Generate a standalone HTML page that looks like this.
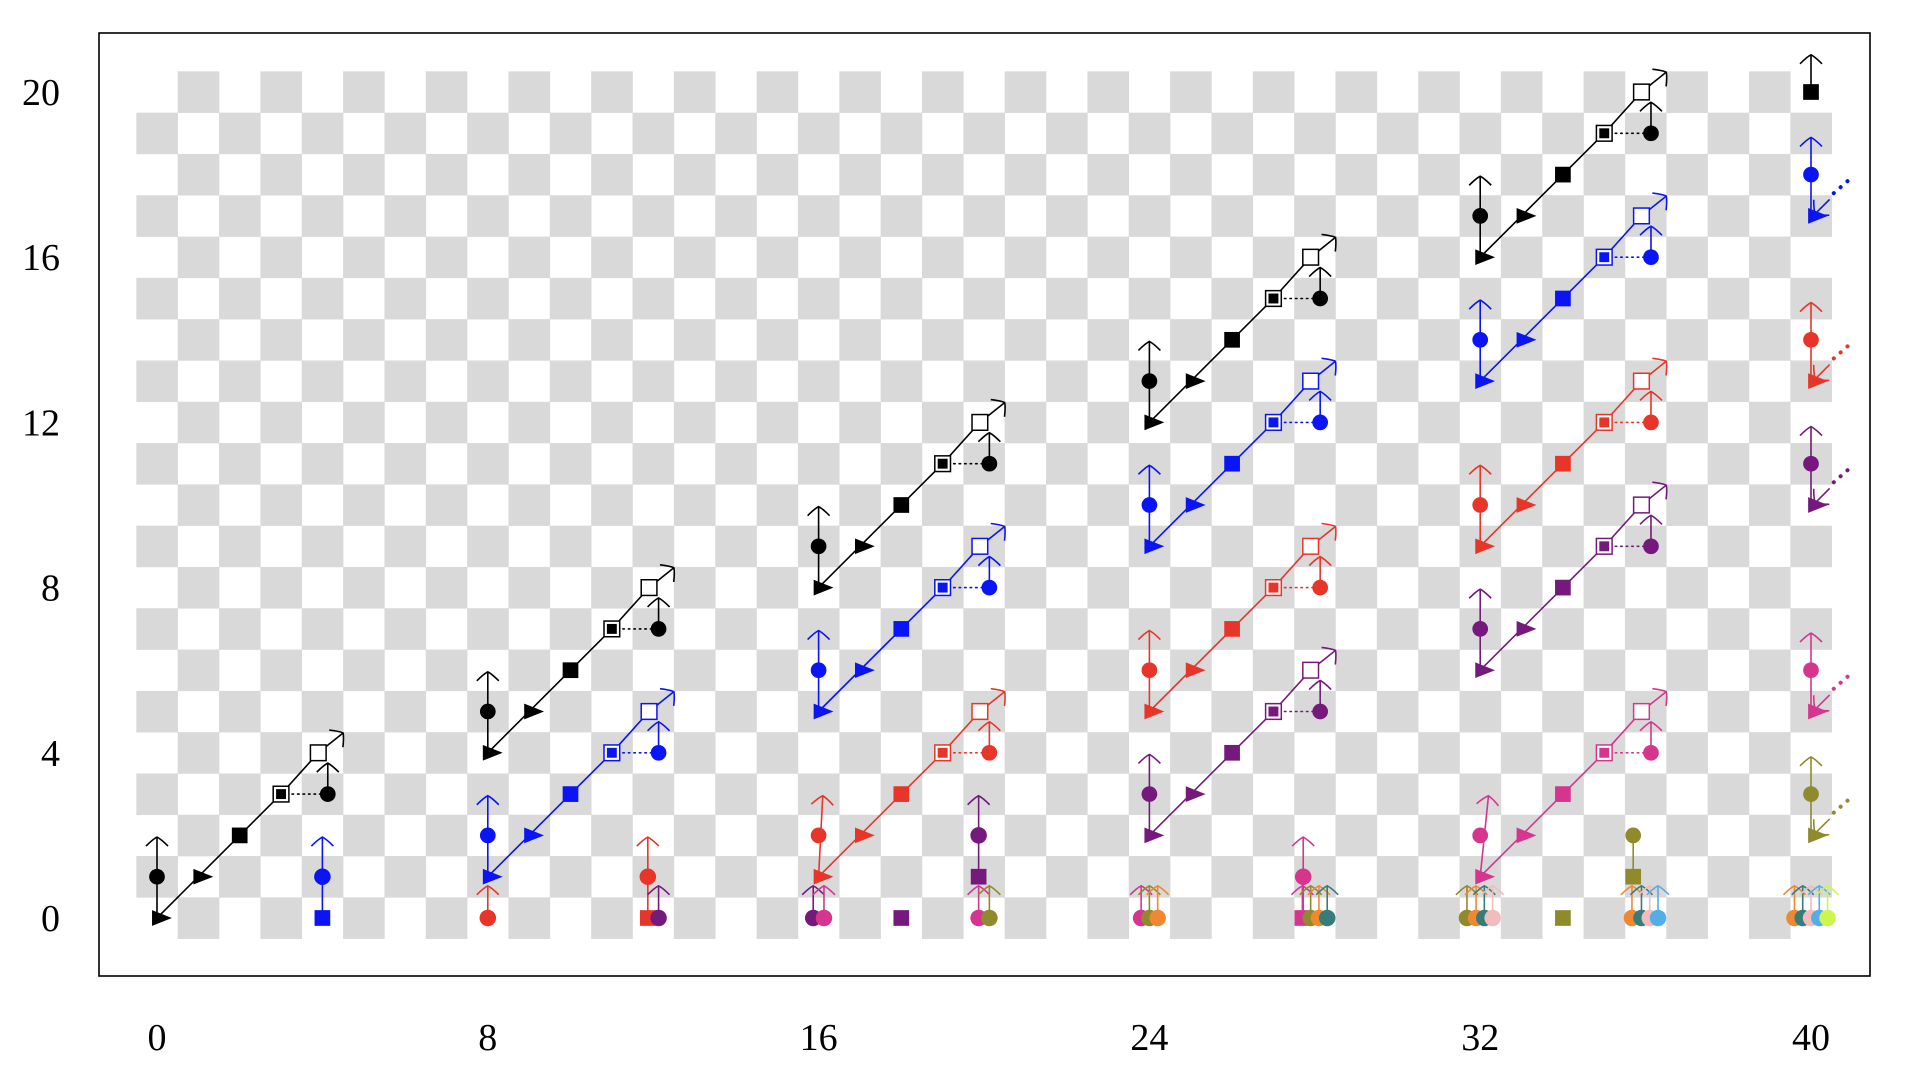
<!DOCTYPE html>
<html><head><meta charset="utf-8"><style>
html,body{margin:0;padding:0;background:#fff}
svg{display:block}
text{font-family:"Liberation Serif",serif;font-size:38px;fill:#000}
</style></head><body>
<svg id="chart" width="1914" height="1072" viewBox="0 0 1914 1072" xmlns="http://www.w3.org/2000/svg">
<rect x="0" y="0" width="1914" height="1072" fill="#fff"/>
<g id="board"></g>
<g id="marks"></g>
<rect x="99" y="33" width="1771" height="943" fill="none" stroke="#000" stroke-width="1.6"/>
<g id="ticks"></g>
</svg>
<script>
// ----- data -----
const xTicks = [0, 8, 16, 24, 32, 40];
const yTicks = [0, 4, 8, 12, 16, 20];
// full chains: base point (triangle) of each chain
const chainX = [0, 8, 8, 16, 16, 16, 24, 24, 24, 24, 32, 32, 32, 32, 32];
const chainY = [0, 4, 1, 8, 5, 1, 12, 9, 5, 2, 16, 13, 9, 6, 1];
const chainC = ['black','black','blue','black','blue','red','black','blue','red','purple','black','blue','red','purple','pink'];
const chainTilt = [0,0,0,0,0,0.1,0,0,0,0,0,0,0,0,0.2];
// partial chains at x=40: circle y values
const tailY = [18, 14, 11, 6, 3];
const tailC = ['blue','red','purple','pink','olive'];
const topSquareY = 20;
// bottom/isolated circles with arrows: x, y, color
const dotX = [4, 8, 11.87, 12.13, 15.87, 16.13, 19.87, 20.13, 19.87, 23.8, 24, 24.2, 27.72, 27.7, 27.9, 28.1, 28.3, 31.68, 31.9, 32.1, 32.3, 35.67, 35.9, 36.1, 36.3, 39.6, 39.8, 40, 40.2, 40.4];
const dotY = [1, 0, 1, 0, 0, 0, 0, 0, 2, 0, 0, 0, 1, 0, 0, 0, 0, 0, 0, 0, 0, 0, 0, 0, 0, 0, 0, 0, 0, 0];
const dotC = ['blue','red','red','purple','purple','pink','pink','olive','purple','pink','olive','orange','pink','pink','olive','orange','teal','olive','orange','teal','lpink','orange','teal','lpink','lblue','orange','teal','lpink','lblue','lime'];
const dotHasCircle = [1,1,1,1,1,1,1,1,1,1,1,1,1,0,1,1,1,1,1,1,1,1,1,1,1,1,1,1,1,1];
// isolated squares: x, y, color
const sqX = [4, 11.87, 18, 19.87, 27.7, 34, 35.7];
const sqY = [0, 0, 0, 1, 0, 0, 1];
const sqC = ['blue','red','purple','purple','pink','olive','olive'];
// stems linking square to circle above
const stemX = [4, 11.87, 19.87, 27.72, 35.7];
const stemY0 = [0, 0, 1, 0, 1];
const stemY1 = [1, 1, 2, 1, 2];
const stemC = ['blue','red','purple','pink','olive'];
const extraCircleX = [35.7];
const extraCircleY = [2];
const extraCircleC = ['olive'];

const COL = {black:'#000', blue:'#0a14f5', red:'#e8352a', purple:'#751a7c', pink:'#d6358f', olive:'#8f8a2c', orange:'#ee8833', teal:'#357c7a', lpink:'#f3bcbc', lblue:'#53aee8', lime:'#cbf64e'};

// ----- axes -----
const X = u => 157 + 41.35 * u;
const Y = v => 918 - 41.3 * v;
const S = 41.3;
const NS = 'http://www.w3.org/2000/svg';
function mk(tag, attrs, parent) {
  const e = document.createElementNS(NS, tag);
  for (const k in attrs) e.setAttribute(k, attrs[k]);
  parent.appendChild(e);
  return e;
}
const board = document.getElementById('board');
const marks = document.getElementById('marks');
const ticks = document.getElementById('ticks');

for (let i = 0; i <= 40; i++) {
  for (let j = 0; j <= 20; j++) {
    if ((i + j) % 2 === 1) {
      const r = mk('rect', {x: X(i - 0.5), y: Y(j + 0.5), width: X(i + 0.5) - X(i - 0.5) + 0.3, height: Y(j - 0.5) - Y(j + 0.5) + 0.3, fill: '#d9d9d9'}, board);
      
      
    }
  }
}

function line(x1, y1, x2, y2, c, dash, name) {
  const l = mk('line', {x1: X(x1), y1: Y(y1), x2: X(x2), y2: Y(y2), stroke: c, 'stroke-width': 1.6}, marks);
  if (dash) { l.setAttribute('stroke-dasharray', dash); l.setAttribute('stroke-linecap', 'round'); }
  
  
  return l;
}
function arrowHead(x1, y1, x2, y2, c) {
  const px = X(x2), py = Y(y2);
  const dx = X(x2) - X(x1), dy = Y(y2) - Y(y1);
  const L = Math.hypot(dx, dy) || 1;
  const ux = dx / L, uy = dy / L, nx = -uy, ny = ux;
  const back = 9, side = 11;
  const a = [px - ux * back + nx * side, py - uy * back + ny * side];
  const b = [px - ux * back - nx * side, py - uy * back - ny * side];
  const d = `M${a[0]},${a[1]} Q${px - ux * 2 + nx * 4},${py - uy * 2 + ny * 4} ${px},${py} Q${px - ux * 2 - nx * 4},${py - uy * 2 - ny * 4} ${b[0]},${b[1]}`;
  const p = mk('path', {d: d, fill: 'none', stroke: c, 'stroke-width': 1.6}, marks);
  
  
}
function arrow(x1, y1, x2, y2, c) {
  line(x1, y1, x2, y2, c, null, 'arrow-line');
  arrowHead(x1, y1, x2, y2, c);
}
function circle(x, y, c, r) {
  const e = mk('circle', {cx: X(x), cy: Y(y), r: (r || 0.19) * S, fill: c}, marks);
  
  
}
function square(x, y, c, kind) {
  const h = 0.19 * S;
  if (kind === 'open' || kind === 'double') {
    const o = mk('rect', {x: X(x) - h, y: Y(y) - h, width: 2 * h, height: 2 * h, fill: '#fff', stroke: c, 'stroke-width': 1.5}, marks);
    
    
    if (kind === 'double') {
      const i = mk('rect', {x: X(x) - 0.12 * S, y: Y(y) - 0.12 * S, width: 0.24 * S, height: 0.24 * S, fill: c}, marks);
      
      
    }
  } else {
    const e = mk('rect', {x: X(x) - h, y: Y(y) - h, width: 2 * h, height: 2 * h, fill: c}, marks);
    
    
  }
}
function tri(x, y, c) {
  const cx = X(x), cy = Y(y);
  const pts = `${cx - 0.12 * S},${cy - 0.19 * S} ${cx - 0.12 * S},${cy + 0.19 * S} ${cx + 0.36 * S},${cy}`;
  const e = mk('polygon', {points: pts, fill: c}, marks);
  
  
}

for (let k = 0; k < chainX.length; k++) {
  const x = chainX[k], y = chainY[k], c = COL[chainC[k]];
  line(x, y, x + 3, y + 3, c, null, 'chain-line');
  line(x + 3, y + 3, x + 3.9, y + 4, c, null, 'chain-line');
  arrow(x + 3.9, y + 4, x + 4.5, y + 4.48, c);
  line(x + 3, y + 3, x + 4.13, y + 3, c, '1.5 4', 'dotted-link');
  arrow(x, y, x + chainTilt[k], y + 1.96, c);
  arrow(x + 4.13, y + 3, x + 4.13, y + 3.75, c);
  tri(x, y, c);
  circle(x, y + 1, c);
  tri(x + 1, y + 1, c);
  square(x + 2, y + 2, c, 'filled');
  square(x + 3, y + 3, c, 'double');
  square(x + 3.9, y + 4, c, 'open');
  circle(x + 4.13, y + 3, c);
}

arrow(40, topSquareY, 40, topSquareY + 0.9, COL.black);
square(40, topSquareY, COL.black, 'filled');
for (let k = 0; k < tailY.length; k++) {
  const c = COL[tailC[k]], y = tailY[k];
  arrow(40, y - 1, 40, y + 0.9, c);
  arrow(40.45, y - 0.6, 40.1, y - 0.95, c);
  const dl = line(40.55, y - 0.45, 40.95, y - 0.1, c, '0.1 9', 'dotted-tail');
  dl.setAttribute('stroke-width', 4);
  tri(40.05, y - 1, c);
  circle(40, y, c);
}

for (let k = 0; k < stemX.length; k++) line(stemX[k], stemY0[k], stemX[k], stemY1[k], COL[stemC[k]], null, 'stem-line');
for (let k = 0; k < sqX.length; k++) square(sqX[k], sqY[k], COL[sqC[k]], 'filled');
for (let k = 0; k < dotX.length; k++) {
  const c = COL[dotC[k]];
  arrow(dotX[k], dotY[k], dotX[k], dotY[k] + (dotY[k] >= 1 ? 0.96 : 0.78), c);
}
for (let k = 0; k < dotX.length; k++) {
  if (dotHasCircle[k]) circle(dotX[k], dotY[k], COL[dotC[k]], 0.2);
}
for (let k = 0; k < extraCircleX.length; k++) circle(extraCircleX[k], extraCircleY[k], COL[extraCircleC[k]]);

for (const t of xTicks) {
  const e = mk('text', {x: X(t), y: 1050, 'text-anchor': 'middle'}, ticks);
  e.textContent = t;
  
  
}
for (const t of yTicks) {
  const e = mk('text', {x: 60, y: Y(t) + 13, 'text-anchor': 'end'}, ticks);
  e.textContent = t;
  
  
}
</script>
</body></html>
